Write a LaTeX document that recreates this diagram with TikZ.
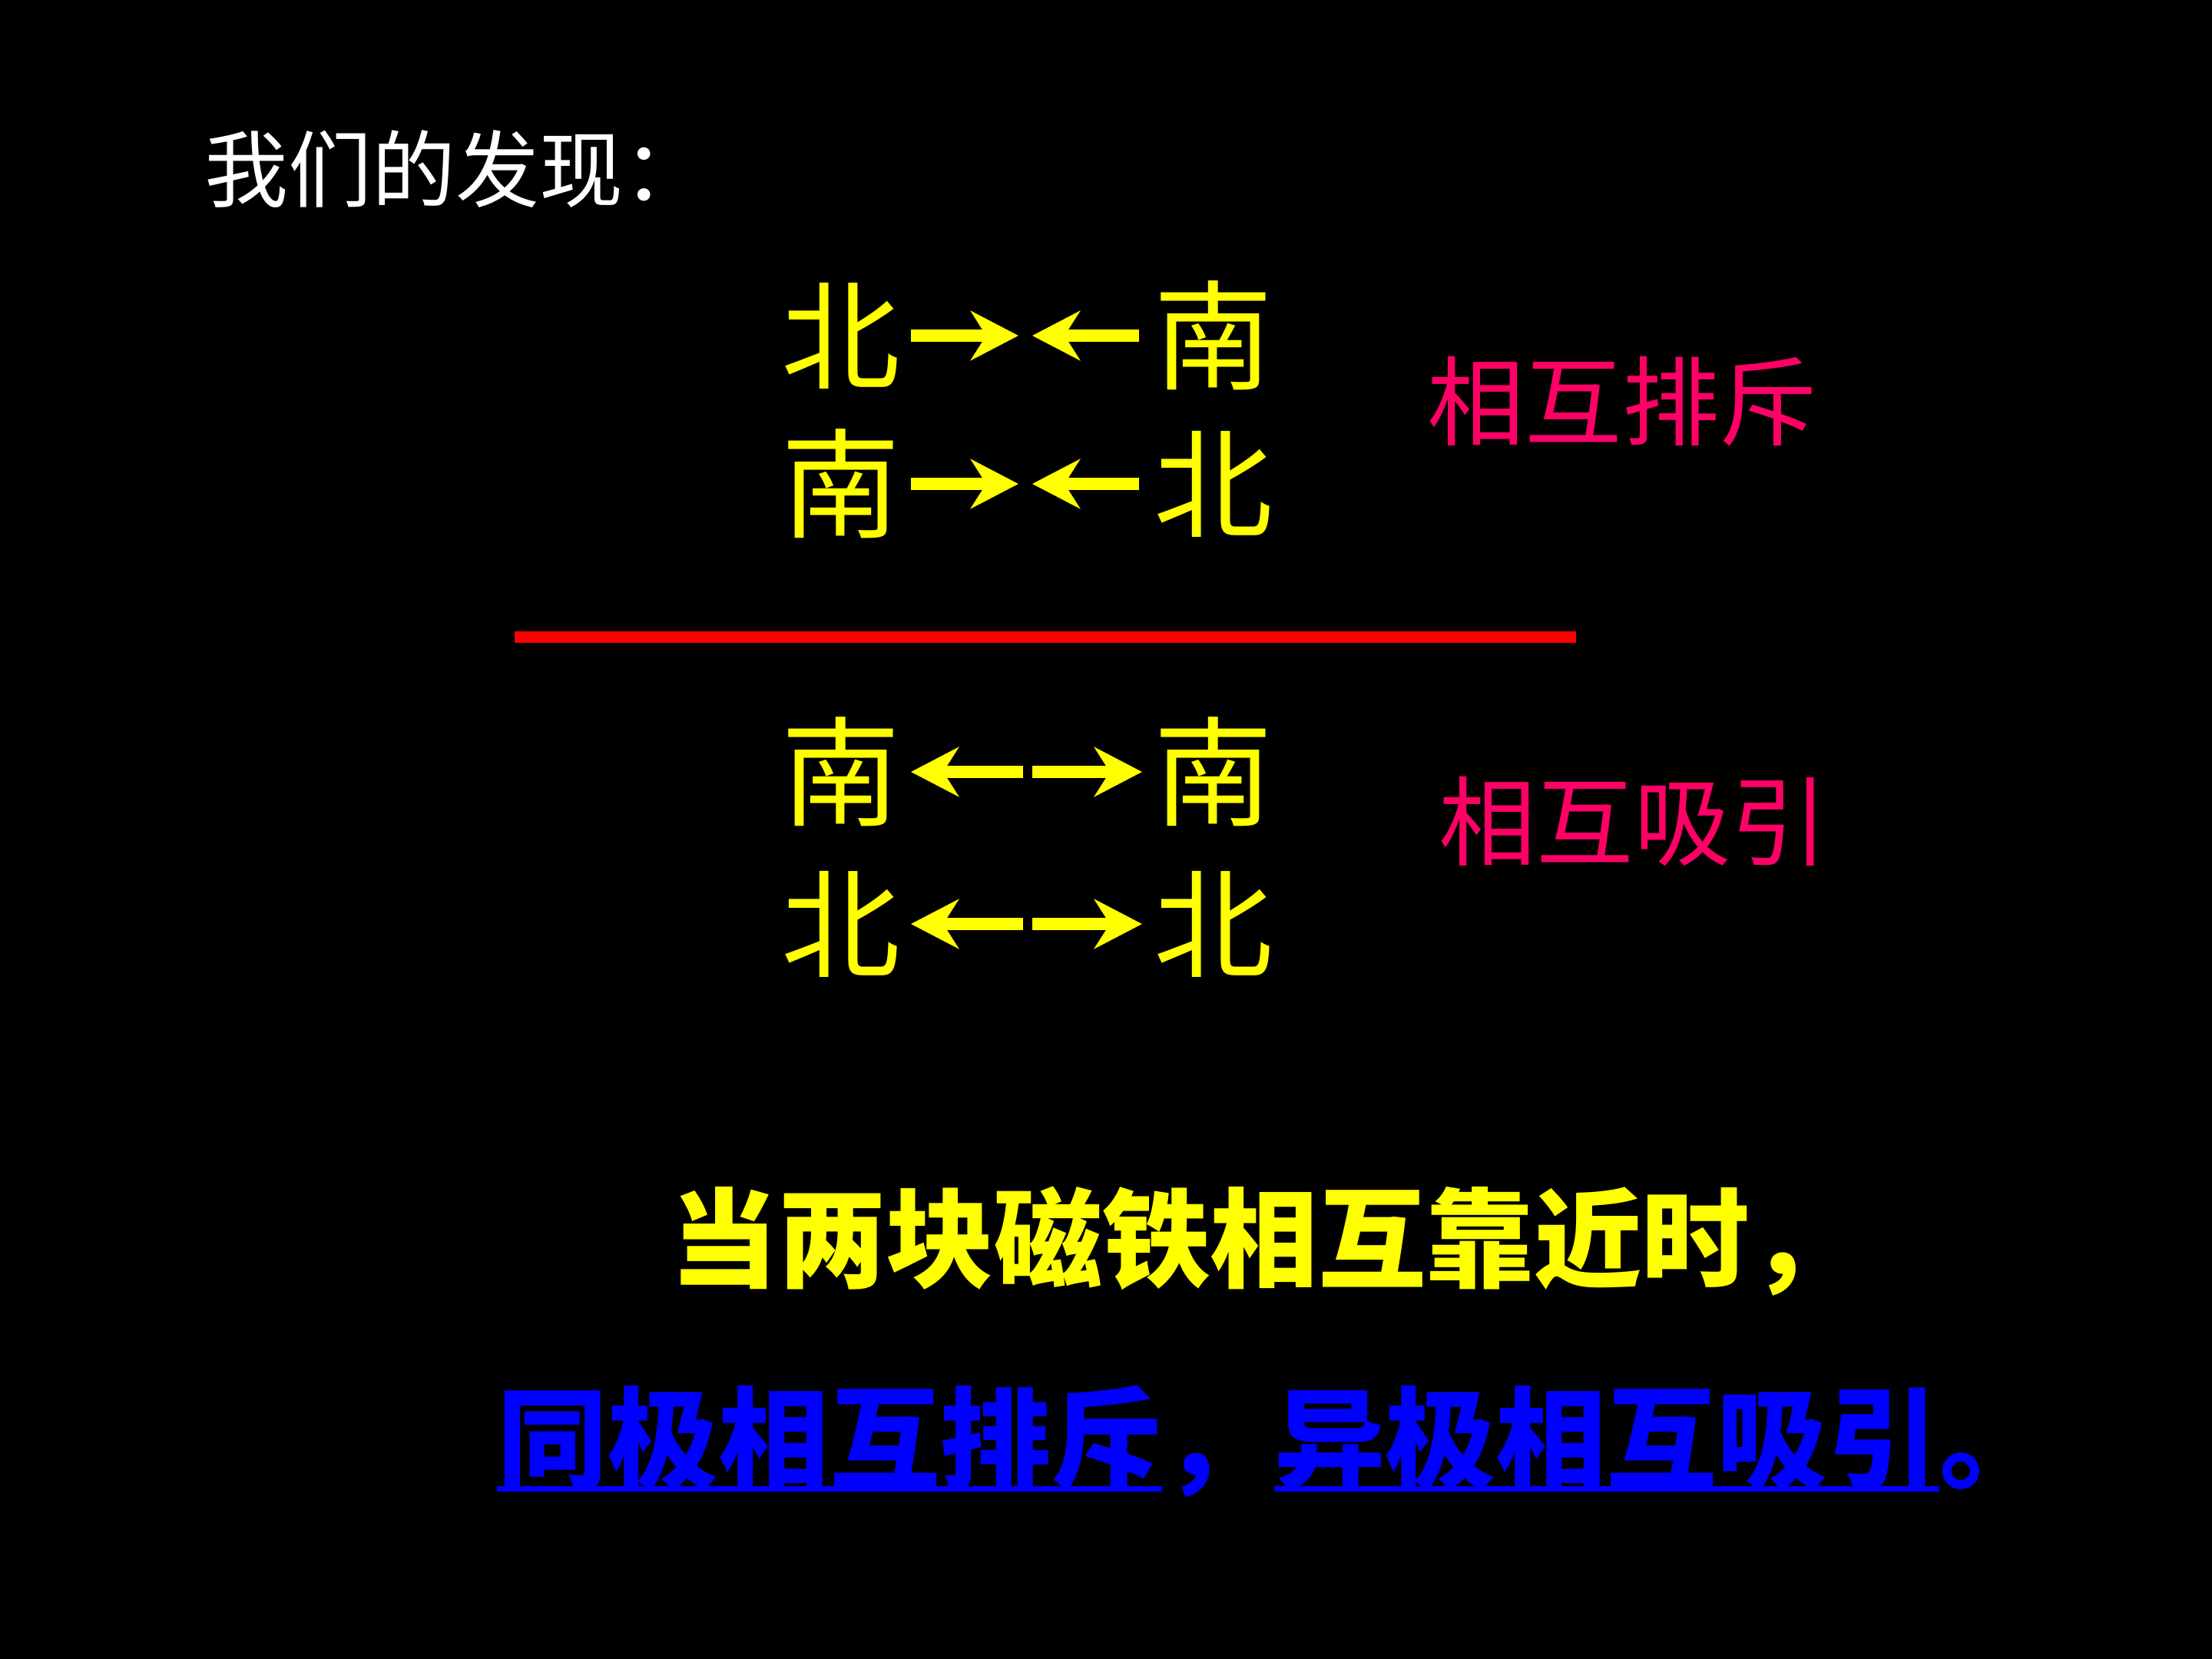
\documentclass[tikz,border=0pt]{standalone}
\usepackage{fontspec}
\newfontfamily\cjk{Noto Sans CJK SC}
\usetikzlibrary{arrows.meta,positioning}
\definecolor{Pole}{HTML}{FFFF00}
\definecolor{Rose}{HTML}{FF0066}
\definecolor{Rule}{HTML}{FF0000}
\definecolor{Link}{HTML}{0000FF}
\begin{document}
\begin{tikzpicture}[
  title/.style={text=white,inner sep=0pt,anchor=west,font=\cjk\fontsize{31}{31}\selectfont},
  pole/.style={text=Pole,inner sep=0pt,font=\cjk\fontsize{44}{44}\selectfont},
  tag/.style={text=Rose,inner sep=0pt,font=\cjk\fontsize{36}{36}\selectfont},
  note/.style={text=Pole,inner sep=0pt,font=\cjk\bfseries\fontsize{40}{40}\selectfont},
  link/.style={text=Link,inner sep=0pt,font=\cjk\bfseries\fontsize{41}{41}\selectfont},
  arrow/.style={-{Stealth[length=0.62cm,width=0.64cm,inset=0.2cm]},line width=0.16cm,draw=Pole},
  uline/.style={draw=Link,line width=0.07cm}
]
\fill[black] (0,0) rectangle (28.8,-21.6);
\node[title] (head) at (2.66,-2.20) {我们的发现：};
\node[pole] (n1) at (10.95,-4.37) {北};
\node[pole] (s1) at (15.80,-4.37) {南};
\node[pole] (s2) at (10.95,-6.30) {南};
\node[pole] (n2) at (15.80,-6.30) {北};
\coordinate (m1) at (13.35,-4.37);
\coordinate (m2) at (13.35,-6.30);
\draw[arrow,shorten <=0.13cm,shorten >=0.09cm] (n1) -- (m1);
\draw[arrow,shorten <=0.19cm,shorten >=0.09cm] (s1) -- (m1);
\draw[arrow,shorten <=0.13cm,shorten >=0.09cm] (s2) -- (m2);
\draw[arrow,shorten <=0.19cm,shorten >=0.09cm] (n2) -- (m2);
\node[tag] (repel) at (21.12,-5.23) {相互排斥};
\draw[Rule,line width=0.15cm] (6.70,-8.30) -- (20.52,-8.30);
\node[pole] (s3) at (10.95,-10.05) {南};
\node[pole] (s4) at (15.80,-10.05) {南};
\node[pole] (n3) at (10.95,-12.03) {北};
\node[pole] (n4) at (15.80,-12.03) {北};
\coordinate (m3) at (13.38,-10.05);
\coordinate (m4) at (13.38,-12.03);
\draw[arrow,shorten <=0.06cm,shorten >=0.13cm] (m3) -- (s3);
\draw[arrow,shorten <=0.06cm,shorten >=0.15cm] (m3) -- (s4);
\draw[arrow,shorten <=0.06cm,shorten >=0.13cm] (m4) -- (n3);
\draw[arrow,shorten <=0.06cm,shorten >=0.15cm] (m4) -- (n4);
\node[tag] (attract) at (21.27,-10.69) {相互吸引};
\node[note,anchor=west] (when) at (8.72,-16.16) {当两块磁铁相互靠近时，};
\node[link,anchor=west] (same) at (6.47,-18.73) {同极相互排斥};
\node[link,base right=0pt of same] (c1) {，};
\node[link,base right=0pt of c1] (diff) {异极相互吸引};
\node[link,base right=0pt of diff] (c2) {。};
\draw[uline] ([yshift=-0.65cm]same.west) -- ([yshift=-0.65cm]same.east);
\draw[uline] ([yshift=-0.65cm]diff.west) -- ([yshift=-0.65cm]diff.east);
\end{tikzpicture}
\end{document}
